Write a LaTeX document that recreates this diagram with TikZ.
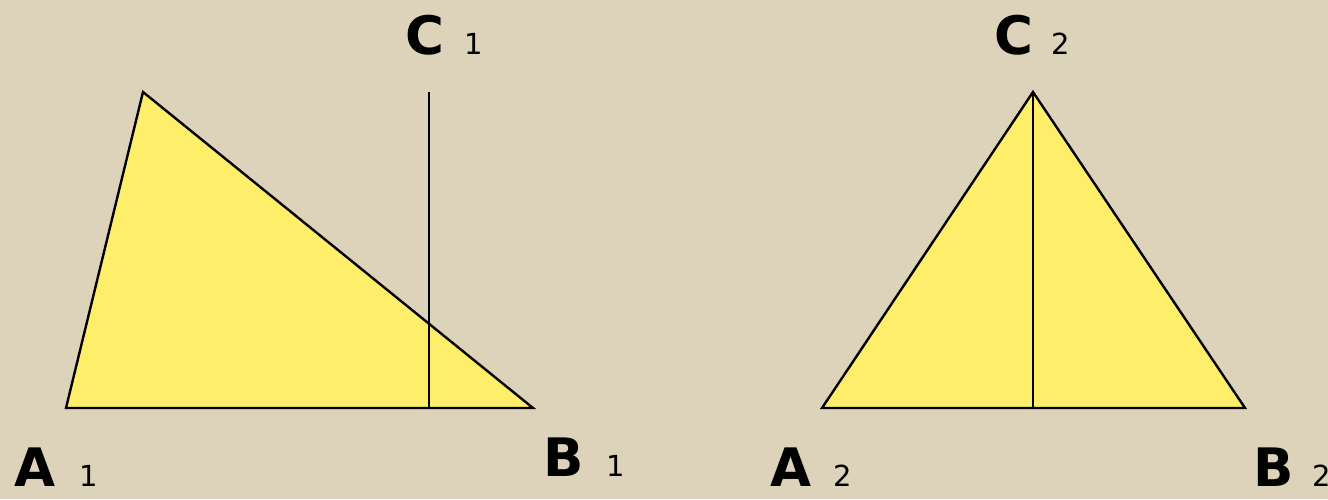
\documentclass[tikz,border=0pt]{standalone}
\usepackage{fontspec}
\setmainfont{DejaVu Sans}
\usetikzlibrary{positioning}
\definecolor{paper}{RGB}{221,210,186}
\definecolor{sunny}{RGB}{255,238,106}

\begin{document}
\begin{tikzpicture}[
    x=1pt, y=-1pt,
    trifill/.style={draw=black, fill=sunny, line width=2.4pt, line join=miter},
    heightline/.style={draw=black, line width=2.2pt},
    vname/.style={inner sep=0pt, anchor=base west, font=\fontsize{53}{56}\selectfont\bfseries},
    vsub/.style={inner sep=0pt, anchor=base west, font=\fontsize{29}{32}\selectfont},
]

% ── Background ──
\useasboundingbox (0,0) rectangle (1328,499);
\fill[paper] (0,0) rectangle (1328,499);

% ── First triangle ──
\coordinate (a1) at (66,408);
\coordinate (b1) at (533,408);
\coordinate (t1) at (143,92);
\coordinate (c1) at (429,92);
\coordinate (h1) at (429,408);
\draw[trifill] (a1) -- (b1) -- (t1) -- cycle;
\draw[heightline] (c1) -- (h1);

% ── Second triangle ──
\coordinate (a2) at (822,408);
\coordinate (b2) at (1245,408);
\coordinate (c2) at (1033,92);
\coordinate (h2) at (1033,408);
\draw[trifill] (a2) -- (b2) -- (c2) -- cycle;
\draw[heightline] (c2) -- (h2);

% ── Labels ──
\node[vname] (lc1) at (405,54) {C};
\node[vsub, right=20pt of lc1.base east, anchor=base west] {1};
\node[vname] (la1) at (14,486) {A};
\node[vsub, right=24pt of la1.base east, anchor=base west] {1};
\node[vname] (lb1) at (543,476) {B};
\node[vsub, right=22pt of lb1.base east, anchor=base west] {1};

\node[vname] (lc2) at (994,54) {C};
\node[vsub, right=18pt of lc2.base east, anchor=base west] {2};
\node[vname] (la2) at (770,486) {A};
\node[vsub, right=22pt of la2.base east, anchor=base west] {2};
\node[vname] (lb2) at (1253,486) {B};
\node[vsub, right=18pt of lb2.base east, anchor=base west] {2};

\end{tikzpicture}
\end{document}
